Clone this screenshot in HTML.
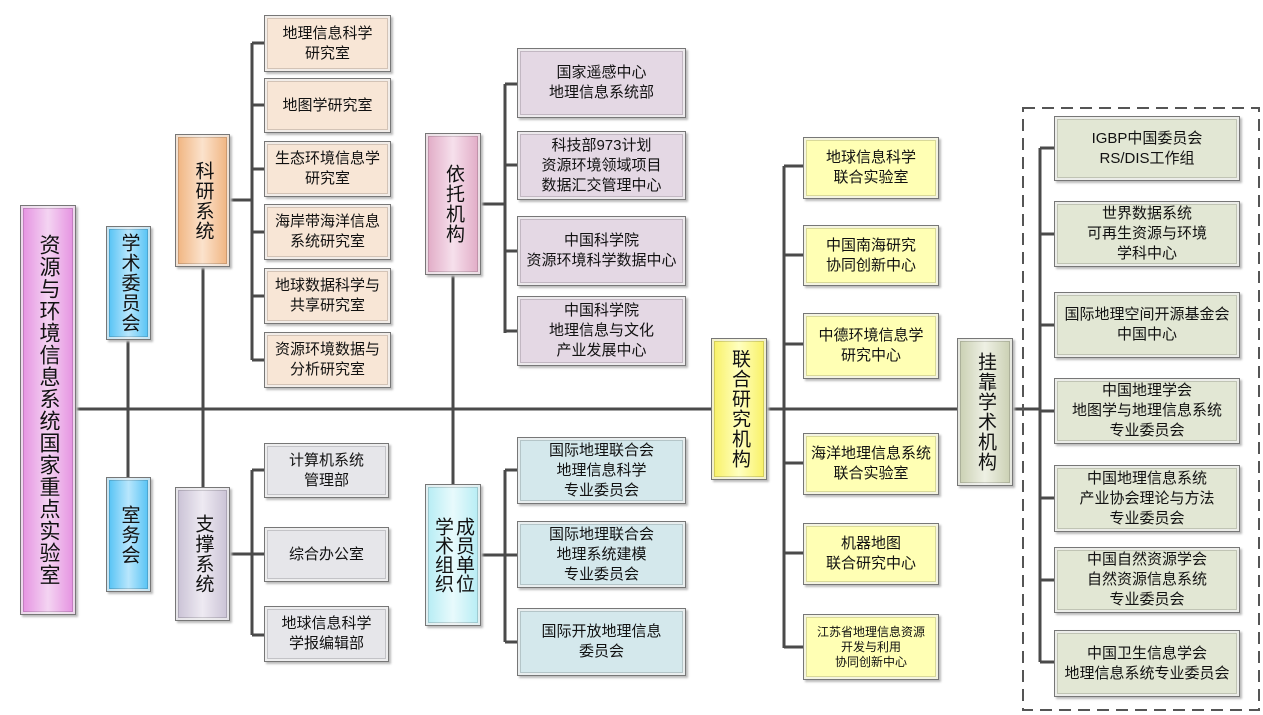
<!DOCTYPE html>
<html><head><meta charset="utf-8"><style>
body{margin:0;width:1263px;height:715px;background:#fff;position:relative;overflow:hidden;font-family:"Liberation Sans","Noto Sans CJK SC",sans-serif;color:#111}
.b{position:absolute;box-sizing:border-box;border:1px solid #777;box-shadow:inset 0 0 0 2px rgba(255,255,255,.7),inset 0 0 0 3px rgba(0,0,0,.15),2px 2px 2px #bbb;display:flex;align-items:center;justify-content:center;text-align:center;font-size:15px;line-height:20px}
.v{writing-mode:vertical-rl;font-size:19px;line-height:22px;letter-spacing:1px}
.o{background:#f8e6d6}.g{background:#e6e6ea}.p{background:#e4d8e4}.c{background:#d4e8ec}.y{background:#ffffb4}.e{background:#e2e7d4}
</style></head><body>
<svg width="1263" height="715" style="position:absolute;left:0;top:0" stroke="#4a4a4a" stroke-width="3" fill="none">
<line x1="76" y1="409" x2="1040" y2="409"/>
<line x1="128" y1="340" x2="128" y2="477"/>
<line x1="203" y1="267" x2="203" y2="487"/>
<line x1="453" y1="275" x2="453" y2="484"/>
<path d="M230 200H252M252 43V360M252 43H264M252 105H264M252 169H264M252 232H264M252 296H264M252 360H264"/>
<path d="M230 554H252M252 470V635M252 470H264M252 554H264M252 635H264"/>
<path d="M481 204H505M505 84V333M505 84H517M505 165H517M505 251H517M505 331H517"/>
<path d="M481 555H505M505 470V642M505 470H517M505 555H517M505 642H517"/>
<path d="M767 409H784M784 166V648M784 166H803M784 255H803M784 344H803M784 463H803M784 553H803M784 647H803"/>
<path d="M1013 409H1040M1040 148V662M1040 148H1054M1040 234H1054M1040 325H1054M1040 411H1054M1040 498H1054M1040 580H1054M1040 662H1054"/>
<rect x="1023" y="108" width="236" height="602" stroke="#555" stroke-width="2" stroke-dasharray="12 7"/>
</svg>
<div class="b v" style="left:20px;top:205px;width:56px;height:410px;background:linear-gradient(90deg,#e48ee0,#f4d4f2 50%,#e48ee0);font-size:21px;line-height:24px">资源与环境信息系统国家重点实验室</div>
<div class="b v" style="left:106px;top:226px;width:45px;height:114px;background:linear-gradient(90deg,#4ec0f4,#b8e6fc 50%,#4ec0f4)">学术委员会</div>
<div class="b v" style="left:106px;top:477px;width:45px;height:115px;background:linear-gradient(90deg,#4ec0f4,#b8e6fc 50%,#4ec0f4)">室务会</div>
<div class="b v" style="left:175px;top:134px;width:55px;height:133px;background:linear-gradient(90deg,#f0b27c,#fbe2cc 50%,#f0b27c)">科研系统</div>
<div class="b v" style="left:175px;top:487px;width:55px;height:134px;background:linear-gradient(90deg,#c8c0d4,#eeeaf2 50%,#c8c0d4)">支撑系统</div>
<div class="b v" style="left:425px;top:133px;width:56px;height:142px;background:linear-gradient(90deg,#e0a8c4,#f6e0ec 50%,#e0a8c4)">依托机构</div>
<div class="b v" style="left:425px;top:484px;width:56px;height:142px;background:linear-gradient(90deg,#b4ecf4,#e8fafc 50%,#b4ecf4);line-height:21px;letter-spacing:0">成员单位<br>学术组织</div>
<div class="b v" style="left:711px;top:338px;width:56px;height:142px;background:linear-gradient(90deg,#f8f060,#ffffc0 50%,#f8f060)">联合研究机构</div>
<div class="b v" style="left:957px;top:338px;width:56px;height:148px;background:linear-gradient(90deg,#c8ceb0,#eef0e4 50%,#c8ceb0)">挂靠学术机构</div>

<div class="b o" style="left:264px;top:15px;width:127px;height:57px">地理信息科学<br>研究室</div>
<div class="b o" style="left:264px;top:78px;width:127px;height:55px">地图学研究室</div>
<div class="b o" style="left:264px;top:141px;width:127px;height:56px">生态环境信息学<br>研究室</div>
<div class="b o" style="left:264px;top:204px;width:127px;height:56px">海岸带海洋信息<br>系统研究室</div>
<div class="b o" style="left:264px;top:268px;width:127px;height:56px">地球数据科学与<br>共享研究室</div>
<div class="b o" style="left:264px;top:332px;width:127px;height:56px">资源环境数据与<br>分析研究室</div>

<div class="b g" style="left:264px;top:443px;width:125px;height:55px">计算机系统<br>管理部</div>
<div class="b g" style="left:264px;top:527px;width:125px;height:55px">综合办公室</div>
<div class="b g" style="left:264px;top:606px;width:125px;height:56px">地球信息科学<br>学报编辑部</div>

<div class="b p" style="left:517px;top:48px;width:169px;height:70px">国家遥感中心<br>地理信息系统部</div>
<div class="b p" style="left:517px;top:131px;width:169px;height:69px">科技部973计划<br>资源环境领域项目<br>数据汇交管理中心</div>
<div class="b p" style="left:517px;top:216px;width:169px;height:70px">中国科学院<br>资源环境科学数据中心</div>
<div class="b p" style="left:517px;top:296px;width:169px;height:70px">中国科学院<br>地理信息与文化<br>产业发展中心</div>

<div class="b c" style="left:517px;top:437px;width:169px;height:67px">国际地理联合会<br>地理信息科学<br>专业委员会</div>
<div class="b c" style="left:517px;top:521px;width:169px;height:67px">国际地理联合会<br>地理系统建模<br>专业委员会</div>
<div class="b c" style="left:517px;top:608px;width:169px;height:68px">国际开放地理信息<br>委员会</div>

<div class="b y" style="left:803px;top:137px;width:136px;height:62px">地球信息科学<br>联合实验室</div>
<div class="b y" style="left:803px;top:225px;width:136px;height:61px">中国南海研究<br>协同创新中心</div>
<div class="b y" style="left:803px;top:313px;width:136px;height:66px">中德环境信息学<br>研究中心</div>
<div class="b y" style="left:803px;top:433px;width:136px;height:62px">海洋地理信息系统<br>联合实验室</div>
<div class="b y" style="left:803px;top:523px;width:136px;height:62px">机器地图<br>联合研究中心</div>
<div class="b y" style="left:803px;top:614px;width:136px;height:66px;font-size:12px;line-height:15px">江苏省地理信息资源<br>开发与利用<br>协同创新中心</div>

<div class="b e" style="left:1054px;top:116px;width:186px;height:65px">IGBP中国委员会<br>RS/DIS工作组</div>
<div class="b e" style="left:1054px;top:201px;width:186px;height:66px">世界数据系统<br>可再生资源与环境<br>学科中心</div>
<div class="b e" style="left:1054px;top:292px;width:186px;height:66px">国际地理空间开源基金会<br>中国中心</div>
<div class="b e" style="left:1054px;top:378px;width:186px;height:66px">中国地理学会<br>地图学与地理信息系统<br>专业委员会</div>
<div class="b e" style="left:1054px;top:465px;width:186px;height:67px">中国地理信息系统<br>产业协会理论与方法<br>专业委员会</div>
<div class="b e" style="left:1054px;top:547px;width:186px;height:66px">中国自然资源学会<br>自然资源信息系统<br>专业委员会</div>
<div class="b e" style="left:1054px;top:630px;width:186px;height:67px">中国卫生信息学会<br>地理信息系统专业委员会</div>
</body></html>
